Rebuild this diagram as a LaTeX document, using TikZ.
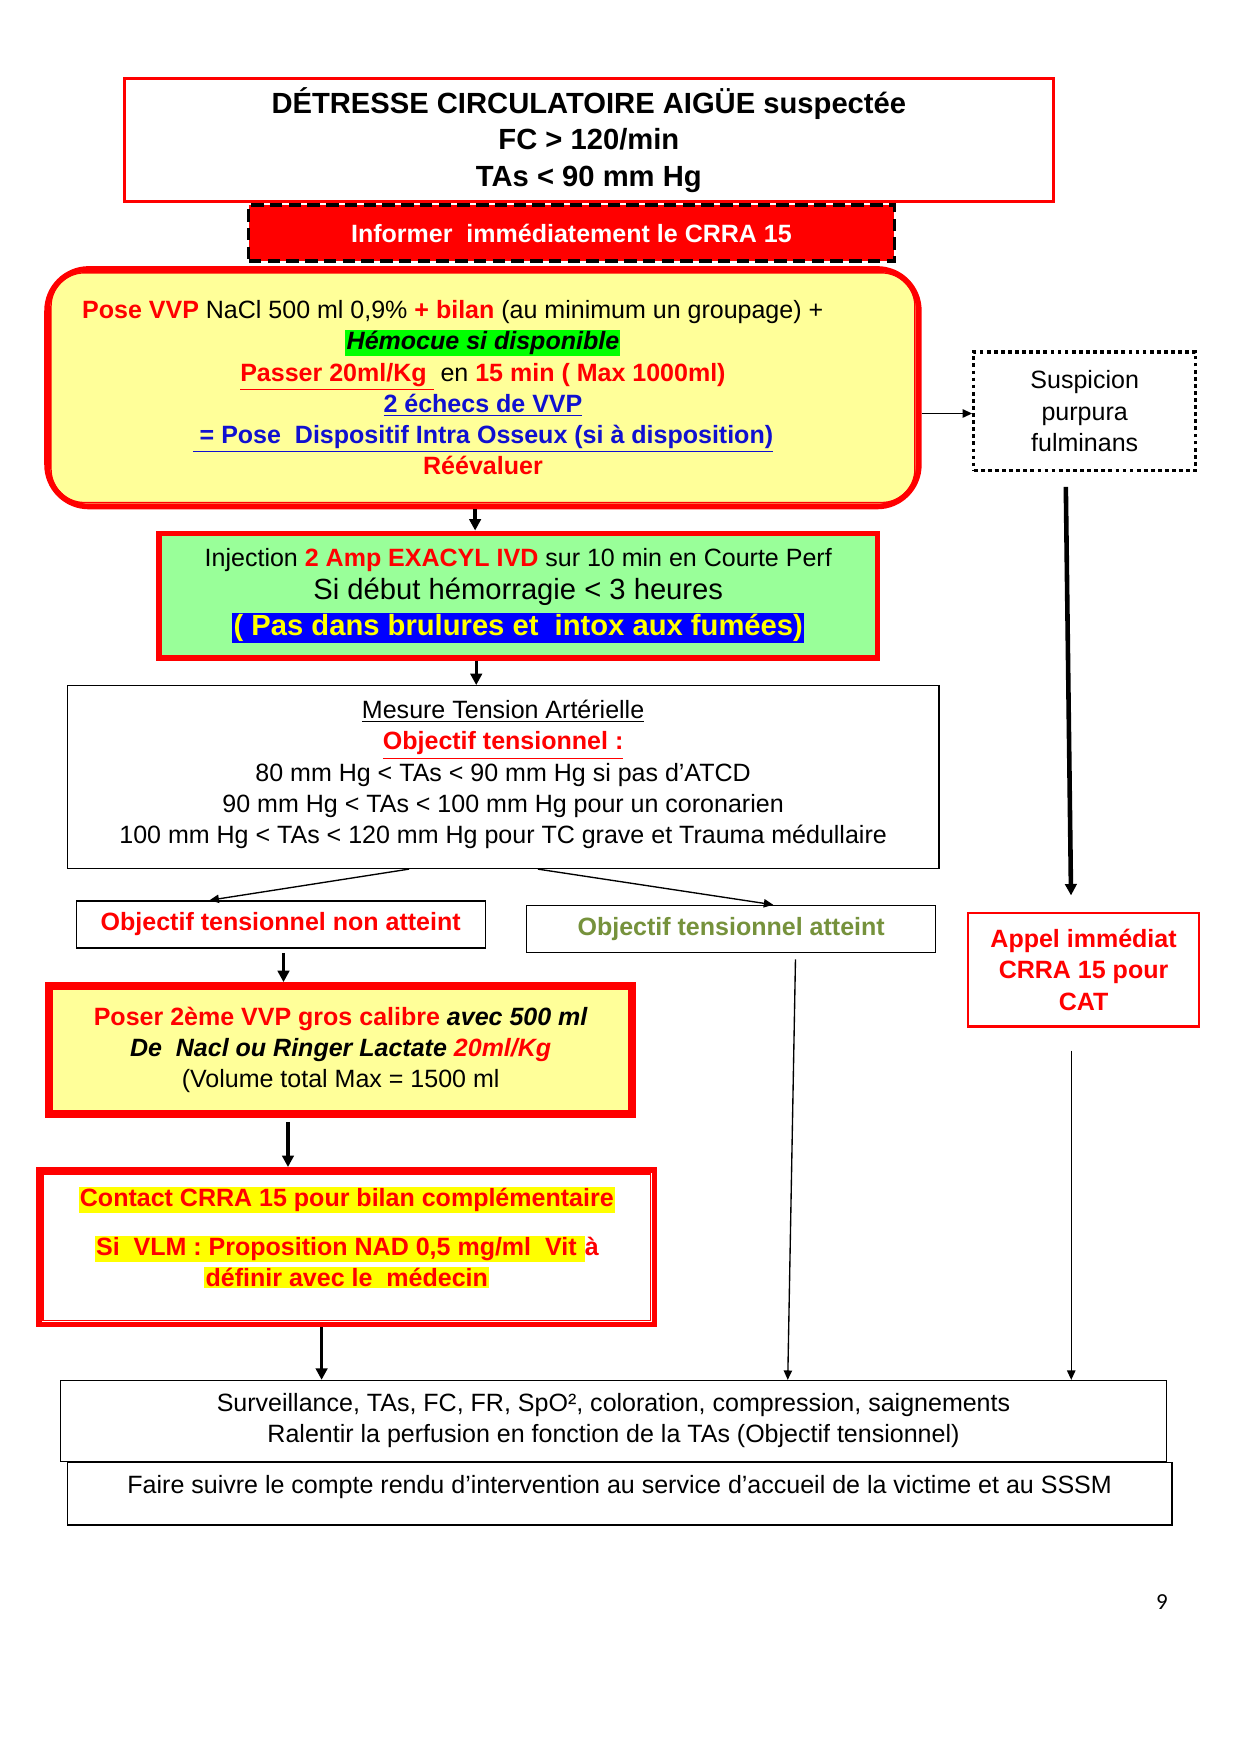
\documentclass[tikz,border=0pt]{standalone}
\usepackage{fontspec}
\setmainfont{Liberation Sans}
\newfontfamily\pagefont{Carlito}
\usepackage{tikz}
\usetikzlibrary{arrows.meta}

\definecolor{rougeSP}{HTML}{FF0000}
\definecolor{jaunePale}{HTML}{FFFF99}
\definecolor{vertPale}{HTML}{99FF99}
\definecolor{vertFluo}{HTML}{00FF00}
\definecolor{bleuSurl}{HTML}{0000FF}
\definecolor{bleuTexte}{HTML}{1010D0}
\definecolor{jauneFluo}{HTML}{FFFF00}
\definecolor{vertOlive}{HTML}{76923C}

\newcommand{\px}{0.5375pt}
\newcommand{\corps}{\fontsize{12}{15}\selectfont}
\newcommand{\grand}{\fontsize{14}{17}\selectfont}
\newcommand{\surligne}[2]{{\setlength{\fboxsep}{0.6pt}\colorbox{#1}{#2}}}

\tikzset{
  boite/.style={draw, line width=0.65pt, inner sep=0pt, align=center, font=\corps},
  cadrerouge/.style={boite, draw=rougeSP, line width=2.7pt},
  filet/.style={draw=rougeSP, line width=0.7pt},
  fleche/.style={-{Triangle[length=5.5pt,width=5.5pt]}, line width=1.6pt},
  flechefine/.style={-{Triangle[length=4.5pt,width=4pt]}, line width=0.65pt},
}

\begin{document}
\begin{tikzpicture}[x=0.5375pt, y=-0.5375pt]
  \fill[white] (0,0) rectangle (1107.5,1566.2);
  \useasboundingbox (0,0) rectangle (1107.5,1566.2);

  % Nodes
  \node[boite, draw=rougeSP, line width=1.6pt, minimum width=829*\px, minimum height=110*\px,
        font=\fontsize{14}{17.6}\selectfont\bfseries] (titre) at (525.5,125)
    {DÉTRESSE CIRCULATOIRE AIGÜE suspectée\\FC > 120/min\\TAs < 90 mm Hg};

  \node[boite, fill=rougeSP, line width=1.6pt, dash pattern=on 6pt off 3pt, text=white,
        minimum width=576*\px, minimum height=50*\px, font=\corps\bfseries] (informer) at (510,208)
    {Informer\ \ immédiatement le CRRA 15};

  \node[cadrerouge, fill=jaunePale, rounded corners=20pt, minimum width=778*\px, minimum height=212*\px] (vvp) at (431,346)
    {{\color{rougeSP}\bfseries Pose VVP} NaCl 500 ml 0,9\% {\color{rougeSP}\bfseries + bilan} (au minimum un groupage) +\hspace*{29pt}\\
     \surligne{vertFluo}{\bfseries\itshape Hémocue si disponible}\\
     {\bfseries{\color{rougeSP}\underline{Passer 20ml/Kg }} \mdseries en {\color{rougeSP}\bfseries 15 min ( Max 1000ml)}}\\
     {\color{bleuTexte}\bfseries\underline{2 échecs de VVP}}\\
     {\color{bleuTexte}\bfseries\underline{ = Pose\ \ Dispositif Intra Osseux (si à disposition)}}\\
     {\color{rougeSP}\bfseries Réévaluer}};

  \node[cadrerouge, fill=vertPale, minimum width=641*\px, minimum height=111*\px] (exacyl) at (462.5,531.5)
    {Injection {\color{rougeSP}\bfseries 2 Amp EXACYL IVD} sur 10 min en Courte Perf\\[1.2pt]
     {\grand Si début hémorragie < 3 heures}\\[2.3pt]
     {\grand\bfseries\surligne{bleuSurl}{\color{jauneFluo}( Pas dans brulures et\ \ intox aux fumées)}}};

  \node[boite, minimum width=778*\px, minimum height=163*\px, text depth=5pt] (mesure) at (449,693.5)
    {\underline{Mesure Tension Artérielle}\\
     {\color{rougeSP}\bfseries\underline{Objectif tensionnel :}}\\
     80 mm Hg < TAs < 90 mm Hg si pas d’ATCD\\
     90 mm Hg < TAs < 100 mm Hg pour un coronarien\\
     100 mm Hg < TAs < 120 mm Hg pour TC grave et Trauma médullaire};

  \node[boite, minimum width=365*\px, minimum height=42*\px, text=rougeSP, font=\corps\bfseries] (nonatteint) at (250.5,825)
    {Objectif tensionnel non atteint};
  \node[boite, minimum width=365*\px, minimum height=42*\px, text=vertOlive, font=\corps\bfseries] (atteint) at (652.5,829)
    {Objectif tensionnel atteint};

  \node[cadrerouge, fill=jaunePale, minimum width=522*\px, minimum height=116*\px] (poser) at (304,937)
    {{\bfseries{\color{rougeSP}Poser 2ème VVP gros calibre} \itshape avec 500 ml}\\
     {\bfseries\itshape De\ \ Nacl ou Ringer Lactate {\color{rougeSP}20ml/Kg}}\\
     (Volume total Max = 1500 ml};

  \node[cadrerouge, fill=white, minimum width=549*\px, minimum height=138*\px, text=rougeSP, font=\corps\bfseries,
        text depth=10pt] (contact) at (309.5,1113)
    {\surligne{jauneFluo}{Contact CRRA 15 pour bilan complémentaire}\\[8.3pt]
     \surligne{jauneFluo}{Si\ \ VLM : Proposition NAD 0,5 mg/ml\ \ Vit\ }à\\
     \surligne{jauneFluo}{définir avec le\ \ médecin}};

  \node[boite, minimum width=987*\px, minimum height=72*\px] (surveillance) at (547.5,1268)
    {Surveillance, TAs, FC, FR, SpO², coloration, compression, saignements\\
     Ralentir la perfusion en fonction de la TAs (Objectif tensionnel)};
  \node[boite, minimum width=986*\px, minimum height=56*\px, text depth=8.5pt] (suivi) at (553,1333)
    {Faire suivre le compte rendu d’intervention au service d’accueil de la victime et au SSSM};

  \node[boite, line width=1.6pt, dash pattern=on 1.8pt off 1.6pt, minimum width=198*\px, minimum height=106*\px] (purpura) at (968,367)
    {Suspicion\\purpura\\fulminans};
  \node[boite, draw=rougeSP, line width=1.1pt, text=rougeSP, font=\corps\bfseries,
        minimum width=206*\px, minimum height=101*\px] (appel) at (967,865.5)
    {Appel immédiat\\CRRA 15 pour\\CAT};

  \node[font=\pagefont\fontsize{11}{13}\selectfont] (numpage) at (1037,1430) {9};

  % Double borders
  \draw[filet, rounded corners=16pt] ([shift={(6,6)}]vvp.north west) rectangle ([shift={(-6,-6)}]vvp.south east);
  \draw[filet] ([shift={(6,6)}]poser.north west) rectangle ([shift={(-6,-6)}]poser.south east);
  \draw[filet] ([shift={(6,6)}]contact.north west) rectangle ([shift={(-6,-6)}]contact.south east);

  % Edges
  \draw[fleche] (vvp.south -| 424,0) -- (exacyl.north -| 424,0);
  \draw[fleche] (exacyl.south -| 425,0) -- (mesure.north -| 425,0);
  \draw[flechefine] (mesure.south -| 365,0) -- (nonatteint.north -| 187,0);
  \draw[flechefine] (mesure.south -| 480,0) -- (atteint.north -| 690,0);
  \draw[fleche, shorten <=2pt] (nonatteint.south -| 253,0) -- (poser.north -| 253,0);
  \draw[fleche, shorten <=2pt] (poser.south -| 257,0) -- (contact.north -| 257,0);
  \draw[fleche] (contact.south -| 287,0) -- (surveillance.north -| 287,0);
  \draw[flechefine, shorten <=3pt] (atteint.south -| 710,0) -- (surveillance.north -| 703,0);
  \draw[flechefine] (vvp.east |- 0,369) -- (purpura.west |- 0,369);
  \draw[fleche, line width=2.2pt, shorten <=7pt, shorten >=8pt] (purpura.south -| 951,0) -- (appel.north -| 956,0);
  \draw[flechefine, shorten <=11pt] (appel.south -| 956,0) -- (surveillance.north -| 956,0);
\end{tikzpicture}
\end{document}
